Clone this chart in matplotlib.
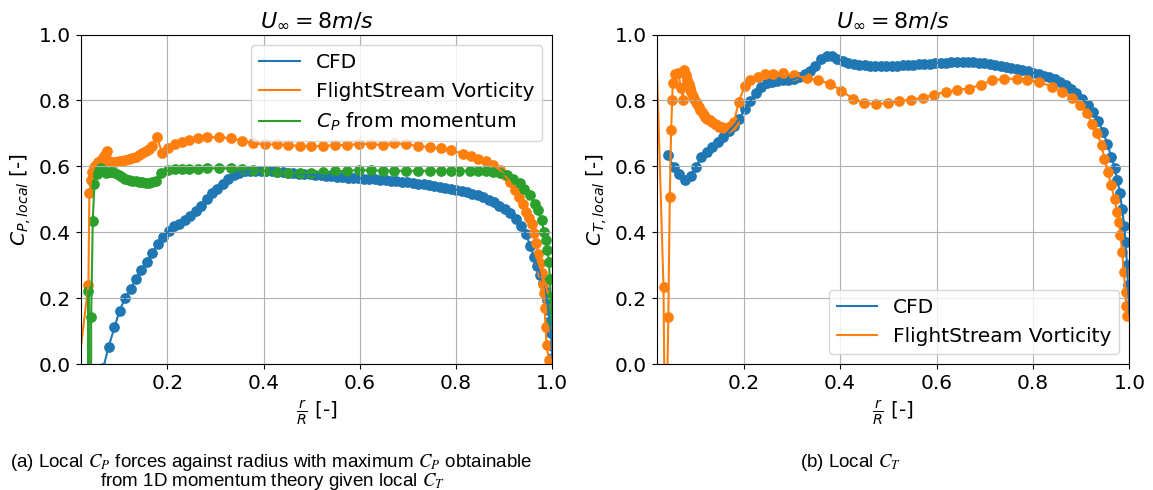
import matplotlib
matplotlib.use("Agg")
import matplotlib.pyplot as plt

# CFD radial stations (shared by C_P and C_T)
r_cfd = [0.044, 0.055, 0.067, 0.078, 0.090, 0.101, 0.112, 0.124, 0.135, 0.146,
         0.157, 0.169, 0.180, 0.191, 0.203, 0.214, 0.225, 0.236, 0.248, 0.259,
         0.270, 0.282, 0.293, 0.304, 0.315, 0.327, 0.338, 0.349, 0.361, 0.372,
         0.383, 0.394, 0.406, 0.417, 0.428, 0.440, 0.451, 0.462, 0.473, 0.485,
         0.496, 0.507, 0.519, 0.530, 0.541, 0.552, 0.564, 0.575, 0.586, 0.597,
         0.609, 0.620, 0.631, 0.643, 0.654, 0.665, 0.676, 0.688, 0.699, 0.710,
         0.721, 0.733, 0.744, 0.755, 0.766, 0.778, 0.789, 0.800, 0.812, 0.823,
         0.834, 0.845, 0.857, 0.868, 0.879, 0.890, 0.902, 0.913, 0.924, 0.935,
         0.945, 0.954, 0.962, 0.969, 0.975, 0.980, 0.985, 0.989, 0.992, 0.995,
         0.997, 0.999, 1.000]
cp_cfd = [-0.30, -0.12, -0.01, 0.053, 0.112, 0.163, 0.200, 0.229, 0.260, 0.287,
          0.309, 0.338, 0.364, 0.386, 0.404, 0.418, 0.427, 0.437, 0.450, 0.465,
          0.481, 0.500, 0.518, 0.533, 0.548, 0.562, 0.573, 0.581, 0.585, 0.587,
          0.587, 0.587, 0.586, 0.585, 0.583, 0.582, 0.580, 0.579, 0.578, 0.577,
          0.576, 0.574, 0.573, 0.571, 0.570, 0.568, 0.567, 0.566, 0.565, 0.564,
          0.563, 0.562, 0.561, 0.559, 0.558, 0.556, 0.555, 0.554, 0.552, 0.550,
          0.548, 0.546, 0.544, 0.542, 0.539, 0.536, 0.533, 0.530, 0.526, 0.522,
          0.517, 0.512, 0.506, 0.499, 0.491, 0.481, 0.470, 0.458, 0.442, 0.420,
          0.395, 0.360, 0.325, 0.298, 0.272, 0.248, 0.222, 0.195, 0.165, 0.130,
          0.095, 0.055, 0.020]
ct_cfd = [0.634, 0.598, 0.578, 0.558, 0.572, 0.598, 0.628, 0.644, 0.659, 0.675,
          0.690, 0.706, 0.723, 0.745, 0.774, 0.798, 0.823, 0.842, 0.852, 0.857,
          0.859, 0.861, 0.862, 0.865, 0.870, 0.879, 0.890, 0.906, 0.926, 0.935,
          0.935, 0.926, 0.920, 0.915, 0.912, 0.909, 0.907, 0.906, 0.905, 0.905,
          0.905, 0.905, 0.906, 0.907, 0.908, 0.909, 0.910, 0.911, 0.912, 0.914,
          0.915, 0.915, 0.916, 0.916, 0.916, 0.916, 0.916, 0.915, 0.914, 0.912,
          0.909, 0.906, 0.903, 0.900, 0.896, 0.892, 0.888, 0.884, 0.880, 0.875,
          0.870, 0.864, 0.856, 0.846, 0.835, 0.822, 0.806, 0.787, 0.765, 0.738,
          0.705, 0.668, 0.630, 0.595, 0.560, 0.520, 0.470, 0.420, 0.370, 0.300,
          0.240, 0.180, 0.150]

# FlightStream vorticity, local C_P
r_fs_p = [0.012, 0.036, 0.038, 0.0417, 0.044, 0.048, 0.052, 0.056, 0.060, 0.064,
          0.068, 0.072, 0.074, 0.078, 0.085, 0.092, 0.099, 0.106, 0.113, 0.120,
          0.127, 0.134, 0.141, 0.148, 0.155, 0.162, 0.169, 0.178, 0.189, 0.201,
          0.215, 0.230, 0.246, 0.263, 0.283, 0.307, 0.332, 0.356, 0.379, 0.402,
          0.427, 0.451, 0.475, 0.499, 0.524, 0.549, 0.573, 0.598, 0.623, 0.648,
          0.672, 0.696, 0.721, 0.745, 0.769, 0.790, 0.814, 0.832, 0.846, 0.862,
          0.877, 0.891, 0.901, 0.912, 0.922, 0.930, 0.939, 0.946, 0.952, 0.957,
          0.963, 0.967, 0.971, 0.974, 0.978, 0.981, 0.983, 0.984, 0.986, 0.988,
          0.993, 0.996]
cp_fs = [-0.05, 0.242, 0.518, 0.558, 0.582, 0.597, 0.605, 0.612, 0.618, 0.624,
         0.631, 0.640, 0.646, 0.616, 0.612, 0.614, 0.616, 0.618, 0.621, 0.624,
         0.627, 0.630, 0.634, 0.640, 0.646, 0.654, 0.663, 0.690, 0.642, 0.656,
         0.667, 0.674, 0.680, 0.685, 0.688, 0.689, 0.685, 0.678, 0.670, 0.667,
         0.667, 0.665, 0.662, 0.662, 0.662, 0.665, 0.665, 0.668, 0.668, 0.665,
         0.670, 0.667, 0.662, 0.659, 0.655, 0.649, 0.639, 0.632, 0.624, 0.617,
         0.604, 0.589, 0.574, 0.553, 0.530, 0.508, 0.485, 0.462, 0.445, 0.427,
         0.397, 0.367, 0.336, 0.306, 0.276, 0.245, 0.215, 0.170, 0.114, 0.058,
         0.013, 0.004]

# C_P from 1D momentum given local C_T
r_mom = [0.035, 0.036, 0.0405, 0.0417, 0.045, 0.0485, 0.053, 0.057, 0.061, 0.065,
         0.069, 0.0735, 0.079, 0.085, 0.092, 0.099, 0.106, 0.113, 0.120, 0.127,
         0.134, 0.141, 0.148, 0.155, 0.162, 0.169, 0.176, 0.187, 0.201, 0.215,
         0.230, 0.246, 0.263, 0.283, 0.307, 0.332, 0.356, 0.379, 0.402, 0.427,
         0.451, 0.475, 0.499, 0.524, 0.549, 0.573, 0.598, 0.623, 0.648, 0.672,
         0.696, 0.721, 0.745, 0.769, 0.790, 0.807, 0.828, 0.846, 0.862, 0.877,
         0.891, 0.905, 0.919, 0.932, 0.942, 0.953, 0.964, 0.971, 0.978, 0.983,
         0.986, 0.990, 0.993, 0.995, 0.997, 0.999, 1.000]
cp_mom = [-3.0, 0.223, -3.0, 0.142, 0.434, 0.548, 0.576, 0.590, 0.594, 0.592,
          0.587, 0.581, 0.583, 0.583, 0.580, 0.574, 0.568, 0.563, 0.560, 0.557,
          0.555, 0.553, 0.552, 0.551, 0.551, 0.552, 0.556, 0.580, 0.588, 0.591,
          0.592, 0.592, 0.593, 0.594, 0.594, 0.594, 0.593, 0.589, 0.586, 0.582,
          0.580, 0.580, 0.581, 0.583, 0.585, 0.587, 0.589, 0.588, 0.587, 0.587,
          0.587, 0.587, 0.587, 0.587, 0.587, 0.587, 0.587, 0.587, 0.586, 0.584,
          0.581, 0.574, 0.563, 0.550, 0.532, 0.512, 0.487, 0.468, 0.437, 0.402,
          0.377, 0.346, 0.311, 0.258, 0.205, 0.165, 0.130]

# FlightStream vorticity, local C_T
r_fs_t = [0.012, 0.034, 0.038, 0.044, 0.047, 0.0498, 0.052, 0.053, 0.057, 0.064,
          0.071, 0.074, 0.077, 0.080, 0.083, 0.086, 0.089, 0.092, 0.095, 0.098,
          0.101, 0.104, 0.107, 0.110, 0.113, 0.117, 0.121, 0.125, 0.130, 0.135,
          0.140, 0.145, 0.150, 0.155, 0.160, 0.165, 0.170, 0.175, 0.180, 0.190,
          0.202, 0.2136, 0.2295, 0.2446, 0.262, 0.2826, 0.305, 0.331, 0.355, 0.379,
          0.403, 0.4265, 0.4506, 0.4748, 0.4988, 0.523, 0.547, 0.571, 0.595, 0.6194,
          0.6434, 0.6676, 0.6917, 0.7157, 0.740, 0.767, 0.788, 0.812, 0.840, 0.860,
          0.880, 0.898, 0.912, 0.922, 0.933, 0.942, 0.948, 0.955, 0.962, 0.969,
          0.974, 0.978, 0.981, 0.985, 0.988, 0.992, 0.993, 0.994]
ct_fs = [1.30, 0.235, -0.40, 0.144, 0.508, 0.710, 0.800, 0.852, 0.880, 0.882,
         0.837, 0.800, 0.893, 0.878, 0.862, 0.850, 0.838, 0.826, 0.815, 0.805,
         0.796, 0.788, 0.781, 0.772, 0.765, 0.757, 0.750, 0.745, 0.740, 0.735,
         0.730, 0.725, 0.721, 0.719, 0.718, 0.718, 0.721, 0.727, 0.735, 0.796,
         0.843, 0.862, 0.872, 0.879, 0.881, 0.883, 0.877, 0.867, 0.862, 0.851,
         0.830, 0.805, 0.792, 0.789, 0.792, 0.798, 0.803, 0.808, 0.818, 0.826,
         0.833, 0.836, 0.848, 0.861, 0.866, 0.866, 0.861, 0.857, 0.842, 0.827,
         0.807, 0.787, 0.761, 0.730, 0.700, 0.665, 0.624, 0.584, 0.543, 0.502,
         0.462, 0.431, 0.391, 0.340, 0.279, 0.218, 0.178, 0.147]

title = r"$U_{\infty} = 8m/s$"
caption_a1 = "(a) Local $C_P$ forces against radius with maximum $C_P$ obtainable"
caption_a2 = "from 1D momentum theory given local $C_T$"
caption_b = "(b) Local $C_T$"

plt.rcParams['font.size'] = 14.5

fig = plt.figure(figsize=(11.53, 4.90), dpi=100)
ax1 = fig.add_axes([0.070, 0.2565, 0.409, 0.673])
ax2 = fig.add_axes([0.5696, 0.2565, 0.410, 0.673])

ms = 45

ax1.plot(r_cfd, cp_cfd, color='C0', label='CFD')
ax1.scatter(r_cfd, cp_cfd, color='C0', s=ms)
ax1.plot(r_fs_p, cp_fs, color='C1', label='FlightStream Vorticity')
ax1.scatter(r_fs_p, cp_fs, color='C1', s=ms)
ax1.plot(r_mom, cp_mom, color='C2', label='$C_P$ from momentum')
ax1.scatter(r_mom, cp_mom, color='C2', s=ms)
ax1.set_xlim(0.02, 1.0)
ax1.set_ylim(0, 1.0)
ax1.grid(True)
ax1.set_title(title, fontsize=16)
ax1.set_xlabel(r"$\frac{r}{R}$ [-]")
ax1.set_ylabel("$C_{P,local}$ [-]")
ax1.legend(loc='upper right')

ax2.plot(r_cfd, ct_cfd, color='C0', label='CFD')
ax2.scatter(r_cfd, ct_cfd, color='C0', s=ms)
ax2.plot(r_fs_t, ct_fs, color='C1', label='FlightStream Vorticity')
ax2.scatter(r_fs_t, ct_fs, color='C1', s=ms)
ax2.set_xlim(0.02, 1.0)
ax2.set_ylim(0, 1.0)
ax2.grid(True)
ax2.set_title(title, fontsize=16)
ax2.set_xlabel(r"$\frac{r}{R}$ [-]")
ax2.set_ylabel("$C_{T,local}$ [-]")
ax2.legend(loc='lower right')

cap = dict(fontsize=13.5, family='Liberation Sans', math_fontfamily='stix',
           va='center', ha='left')
fig.text(10 / 1153, 1 - 462 / 490, caption_a1, **cap)
fig.text(100 / 1153, 1 - 481 / 490, caption_a2, **cap)
fig.text(800 / 1153, 1 - 462 / 490, caption_b, **cap)

fig.savefig('out.png', dpi=100)
